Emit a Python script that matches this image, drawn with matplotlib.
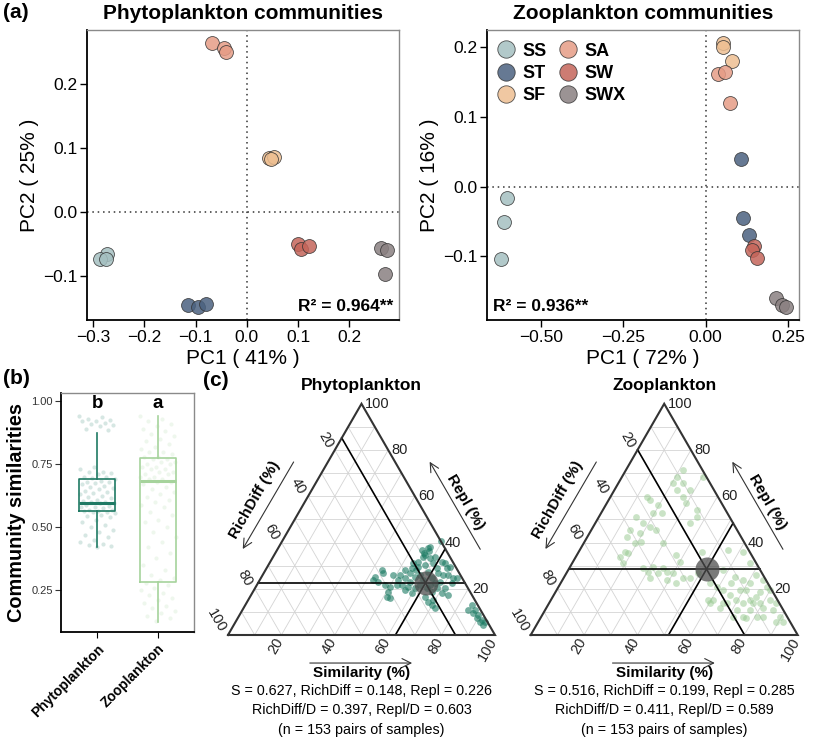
import numpy as np
import matplotlib.pyplot as plt
from matplotlib.lines import Line2D

plt.rcParams['font.family'] = ['Liberation Sans', 'DejaVu Sans']

# ---- panel (a): PCoA scores, 3 samples per site ----
sites = ['SS', 'ST', 'SF', 'SA', 'SW', 'SWX']
site_colors = ['#a5c0c1', '#4b6280', '#eebf92', '#e69c86', '#c5655a', '#8a8081']
sample_site = [s for s in sites for _ in range(3)]

phyto_pc1 = [-0.273, -0.287, -0.275, -0.114, -0.096, -0.080, 0.044, 0.053, 0.048,
             -0.068, -0.045, -0.040, 0.100, 0.106, 0.122, 0.262, 0.273, 0.270]
phyto_pc2 = [-0.066, -0.074, -0.074, -0.145, -0.148, -0.144, 0.084, 0.086, 0.082,
             0.264, 0.256, 0.250, -0.051, -0.058, -0.053, -0.057, -0.060, -0.097]
zoo_pc1 = [-0.603, -0.614, -0.622, 0.107, 0.115, 0.132, 0.054, 0.054, 0.079,
           0.038, 0.059, 0.074, 0.148, 0.142, 0.155, 0.214, 0.231, 0.244]
zoo_pc2 = [-0.016, -0.051, -0.104, 0.040, -0.045, -0.070, 0.206, 0.199, 0.179,
           0.161, 0.164, 0.120, -0.085, -0.091, -0.102, -0.159, -0.169, -0.172]

# ---- panel (b): pairwise similarities ----
phyto_sim = [0.94, 0.935, 0.93, 0.925, 0.92, 0.92, 0.915, 0.91, 0.905, 0.90, 0.89, 0.885,
             0.74, 0.73, 0.72, 0.72, 0.715, 0.71, 0.70, 0.70, 0.695, 0.69, 0.685, 0.68, 0.68,
             0.675, 0.67, 0.665, 0.66, 0.655, 0.65, 0.645, 0.64, 0.635, 0.63, 0.625, 0.62,
             0.615, 0.61, 0.605, 0.60, 0.60, 0.598, 0.595, 0.59, 0.585, 0.58, 0.58, 0.575,
             0.57, 0.57, 0.565, 0.565, 0.56, 0.56, 0.555, 0.55, 0.545, 0.54, 0.53, 0.52,
             0.51, 0.50, 0.49, 0.48, 0.47, 0.46, 0.45, 0.44, 0.435, 0.43, 0.425, 0.42]
zoo_sim = [0.94, 0.93, 0.92, 0.91, 0.90, 0.89, 0.88, 0.87, 0.86, 0.85, 0.84, 0.83, 0.82,
           0.81, 0.80, 0.80, 0.79, 0.78, 0.78, 0.77, 0.77, 0.76, 0.76, 0.75, 0.75, 0.74,
           0.74, 0.73, 0.73, 0.72, 0.72, 0.71, 0.71, 0.70, 0.70, 0.69, 0.69, 0.68, 0.68,
           0.67, 0.66, 0.65, 0.64, 0.63, 0.62, 0.61, 0.60, 0.59, 0.58, 0.56, 0.55, 0.53,
           0.52, 0.50, 0.48, 0.46, 0.44, 0.42, 0.40, 0.38, 0.35, 0.33, 0.31, 0.30, 0.29,
           0.28, 0.27, 0.26, 0.25, 0.24, 0.23, 0.22, 0.21, 0.20, 0.19, 0.18, 0.17, 0.16,
           0.15, 0.14, 0.13]
# box statistics: whislo, q1, med, q3, whishi
phyto_box = [0.42, 0.565, 0.597, 0.693, 0.875]
zoo_box = [0.125, 0.283, 0.685, 0.775, 0.94]

# ---- panel (c): ternary (Similarity %, Repl %), RichDiff = 100 - S - Repl ----
phyto_S = [59.4, 56.5, 54.1, 55.7, 57.1, 56.2, 59.1, 55.4, 58.6, 61.4, 54.4, 56.5, 54.8,
           58.9, 61.3, 63.7, 65.8, 67.5, 72.0, 67.7, 67.9, 71.2, 68.1, 71.0, 64.8, 61.1,
           59.9, 56.6, 54.0, 54.2, 51.9, 48.9, 43.5, 44.7, 42.5, 44.8, 50.2, 50.7, 51.1,
           52.8, 56.6, 59.8, 65.5, 69.8, 71.8, 67.8, 73.9, 72.6, 73.4, 64.2, 60.6, 84.6,
           87.2, 89.4, 89.5, 91.8, 93.5, 93.5, 84.8, 56.5, 56.3, 56.5, 57.4, 61.3, 64.0,
           66.4, 64.3, 66.9, 57.1, 52.4, 51.4, 48.0, 42.4, 69.5, 68.4, 65.4, 53.9, 52.2,
           69.3, 87.1, 91.6]
phyto_R = [40.7, 38.2, 36.8, 35.3, 36.3, 33.9, 33.2, 31.7, 30.3, 31.0, 28.8, 28.1, 26.7,
           25.9, 27.4, 28.8, 31.0, 28.8, 24.8, 25.9, 23.1, 20.2, 20.2, 18.0, 21.6, 21.6,
           20.2, 23.1, 24.5, 21.6, 23.8, 25.9, 28.1, 26.7, 23.8, 23.1, 20.9, 18.7, 16.6,
           15.9, 19.5, 18.0, 16.6, 13.0, 11.5, 14.4, 17.3, 22.3, 24.5, 31.7, 33.9, 10.8,
           9.4, 8.6, 7.2, 6.5, 5.5, 4.3, 13.0, 34.6, 37.5, 29.6, 25.2, 23.8, 24.5, 22.3,
           20.2, 18.7, 20.9, 21.6, 25.9, 21.6, 25.2, 25.9, 29.5, 26.7, 31.0, 28.1, 15.1,
           10.8, 5.5]
zoo_S = [21.4, 30.4, 20.4, 24.3, 20.6, 23.3, 28.3, 27.2, 29.9, 35.1, 36.5, 35.5, 13.5,
         15.4, 19.6, 22.7, 19.6, 14.0, 18.0, 21.2, 24.4, 18.9, 14.4, 14.7, 19.2, 21.3,
         17.3, 18.9, 19.1, 29.8, 16.5, 31.1, 35.2, 37.2, 40.1, 44.9, 34.4, 30.3, 27.7,
         47.4, 49.4, 37.3, 40.0, 46.0, 55.5, 61.6, 58.1, 63.8, 66.6, 55.9, 60.7, 65.3,
         64.0, 68.6, 67.7, 70.9, 71.6, 75.1, 77.9, 76.4, 74.5, 72.8, 71.7, 76.7, 79.0,
         81.9, 85.4, 89.4, 91.6, 89.1, 83.1, 80.7, 77.2, 66.5, 65.1, 60.3, 62.4, 66.0,
         79.8, 85.2, 69.5, 75.7, 76.5, 58.9, 59.2, 76.3, 71.1, 81.3, 71.9, 39.0, 43.4,
         32.4]
zoo_R = [71.3, 68.5, 68.5, 65.6, 65.6, 62.7, 62.7, 59.8, 56.9, 54.0, 51.2, 48.3, 59.8,
         58.4, 56.2, 52.6, 52.6, 51.2, 48.3, 46.8, 45.4, 43.9, 45.4, 42.5, 39.6, 40.3,
         36.0, 35.3, 31.0, 39.6, 33.8, 29.5, 28.8, 27.4, 26.6, 24.5, 26.6, 27.4, 28.8,
         24.5, 26.6, 34.6, 31.7, 36.0, 36.7, 36.0, 28.1, 25.2, 31.0, 22.3, 15.1, 13.7,
         22.3, 19.4, 23.8, 22.3, 25.9, 23.8, 20.9, 18.7, 15.1, 13.7, 10.8, 10.8, 13.7,
         15.1, 10.8, 7.9, 5.7, 5.7, 7.9, 7.9, 7.2, 13.7, 11.5, 13.7, 19.4, 17.3, 19.4,
         13.7, 15.1, 7.9, 13.7, 15.1, 20.9, 16.5, 19.4, 11.5, 7.9, 23.8, 22.3, 24.5]
phyto_mean = [0.627, 0.148, 0.226]  # S, RichDiff, Repl
zoo_mean = [0.516, 0.199, 0.285]
phyto_stats = ['S = 0.627, RichDiff = 0.148, Repl = 0.226',
               'RichDiff/D = 0.397, Repl/D = 0.603',
               '(n = 153 pairs of samples)']
zoo_stats = ['S = 0.516, RichDiff = 0.199, Repl = 0.285',
             'RichDiff/D = 0.411, Repl/D = 0.589',
             '(n = 153 pairs of samples)']

W, H = 815, 739
fig = plt.figure(figsize=(W / 100, H / 100), dpi=100)


def px_axes(x0, y0, x1, y1):
    return fig.add_axes([x0 / W, 1 - y1 / H, (x1 - x0) / W, (y1 - y0) / H])


def style_box(ax):
    for s in ['left', 'bottom']:
        ax.spines[s].set_color('black')
        ax.spines[s].set_linewidth(1.3)
    for s in ['top', 'right']:
        ax.spines[s].set_color('#8a8a8a')
        ax.spines[s].set_linewidth(1.0)


def pcoa(ax, pc1, pc2, title, xlab, ylab, r2, r2pos):
    ax.axhline(0, color='#333333', ls=(0, (1, 2.5)), lw=1.1, zorder=1)
    ax.axvline(0, color='#333333', ls=(0, (1, 2.5)), lw=1.1, zorder=1)
    for i in range(len(pc1)):
        c = site_colors[sites.index(sample_site[i])]
        ax.scatter(pc1[i], pc2[i], s=100, color=c, alpha=0.85,
                   edgecolor='#333333', linewidth=0.6, zorder=3)
    ax.set_title(title, fontsize=15, fontweight='bold', pad=8)
    ax.set_xlabel(xlab, fontsize=15, labelpad=3)
    ax.set_ylabel(ylab, fontsize=15, labelpad=3)
    ax.tick_params(labelsize=12.5, length=5, width=1, pad=2)
    ax.text(r2pos[0], r2pos[1], r2, transform=ax.transAxes, fontsize=12.5,
            fontweight='bold', ha=r2pos[2], va='bottom')
    style_box(ax)


ax1 = px_axes(87, 30, 399, 320)
pcoa(ax1, phyto_pc1, phyto_pc2, 'Phytoplankton communities',
     'PC1 ( 41% )', 'PC2 ( 25% )', 'R² = 0.964**', (0.98, 0.02, 'right'))
ax1.set_xlim(-0.312, 0.297)
ax1.set_ylim(-0.169, 0.284)
ax1.set_xticks([-0.3, -0.2, -0.1, 0.0, 0.1, 0.2])
ax1.set_yticks([-0.1, 0.0, 0.1, 0.2])

ax2 = px_axes(487, 30, 799, 320)
pcoa(ax2, zoo_pc1, zoo_pc2, 'Zooplankton communities',
     'PC1 ( 72% )', 'PC2 ( 16% )', 'R² = 0.936**', (0.02, 0.02, 'left'))
ax2.set_xlim(-0.665, 0.284)
ax2.set_ylim(-0.191, 0.224)
ax2.set_xticks([-0.5, -0.25, 0.0, 0.25])
ax2.set_xticklabels(['\u22120.50', '\u22120.25', '0.00', '0.25'])
ax2.set_yticks([-0.1, 0.0, 0.1, 0.2])
handles = [Line2D([], [], marker='o', ls='', markersize=12.5, color=c, alpha=0.85,
                  markeredgecolor='#333333', markeredgewidth=0.6) for c in site_colors]
ax2.legend(handles, sites, ncol=2, loc='upper left', bbox_to_anchor=(-0.015, 1.0),
           frameon=False, prop={'weight': 'bold', 'size': 13}, handletextpad=0.3,
           columnspacing=0.6, labelspacing=0.3, borderaxespad=0.3, handlelength=1.2)

# ---- panel (b) ----
ax3 = px_axes(61, 393, 194, 632)
box_cols = ['#1f7a64', '#a6d39c']
for k, (vals, st) in enumerate([(phyto_sim, phyto_box), (zoo_sim, zoo_box)]):
    pos = k + 1
    offs = [((i * 0.6180339) % 1 - 0.5) * 0.6 for i in range(len(vals))]
    ax3.scatter([pos + o for o in offs], vals, s=9, color=box_cols[k],
                alpha=0.18, linewidth=0, zorder=2)
    stats = [{'whislo': st[0], 'q1': st[1], 'med': st[2], 'q3': st[3],
              'whishi': st[4], 'fliers': []}]
    ax3.bxp(stats, positions=[pos], widths=0.6, showcaps=False,
            boxprops=dict(color=box_cols[k], lw=1.2),
            whiskerprops=dict(color=box_cols[k], lw=1.2),
            medianprops=dict(color=box_cols[k], lw=2.2), manage_ticks=False)
ax3.set_xlim(0.4, 2.6)
ax3.set_ylim(0.085, 1.032)
ax3.set_yticks([0.25, 0.5, 0.75, 1.0])
ax3.set_yticklabels(['0.25', '0.50', '0.75', '1.00'])
ax3.set_xticks([1, 2])
ax3.set_xticklabels(['Phytoplankton', 'Zooplankton'], rotation=45, ha='right',
                    rotation_mode='anchor', fontweight='bold', fontsize=10)
ax3.tick_params(axis='y', labelsize=8, length=4, colors='#333333', pad=2)
ax3.tick_params(axis='x', length=4, pad=3)
ax3.set_ylabel('Community similarities', fontsize=14.3, fontweight='bold', labelpad=4)
ax3.text(1, 0.99, 'b', ha='center', va='center', fontsize=13.5, fontweight='bold')
ax3.text(2, 0.99, 'a', ha='center', va='center', fontsize=13.5, fontweight='bold')
style_box(ax3)

# ---- panel (c) ----
R3 = np.sqrt(3) / 2


def txy(s, r):
    return s + r / 2, r * R3


def ternary(ax, title, S, R, mean, stats, col, alpha):
    ax.set_aspect('equal')
    ax.axis('off')
    for v in np.arange(0.1, 1.0, 0.1):
        for a, b in [((v, 0), (v, 1 - v)), ((0, v), (1 - v, v)), ((1 - v, 0), (0, 1 - v))]:
            p, q = txy(*a), txy(*b)
            ax.plot([p[0], q[0]], [p[1], q[1]], color='#d4d4d4', lw=0.6, zorder=1)
    ax.plot([0, 1, 0.5, 0], [0, 0, R3, 0], color='#333333', lw=1.5, zorder=4,
            solid_joinstyle='miter')
    x, y = txy(np.array(S) / 100, np.array(R) / 100)
    ax.scatter(x, y, s=24, color=col, alpha=alpha, linewidth=0, zorder=2)
    ms, md, mr = mean
    for a, b in [((ms, 0), (ms, 1 - ms)), ((0, mr), (1 - mr, mr)), ((1 - md, 0), (0, 1 - md))]:
        p, q = txy(*a), txy(*b)
        ax.plot([p[0], q[0]], [p[1], q[1]], color='black', lw=1.2, zorder=3)
    mx, my = txy(ms, mr)
    ax.scatter(mx, my, s=300, color='#4d4d4d', alpha=0.75, linewidth=0, zorder=5)
    for v in [20, 40, 60, 80, 100]:
        f = v / 100
        ax.text(f - 0.004, -0.014, str(v), rotation=60, ha='right', va='center',
                rotation_mode='anchor', fontsize=10.5, color='#222222')
        px, py = (1 - f) / 2, (1 - f) * R3
        ax.text(px - 0.02, py + 0.012, str(v), rotation=-60, ha='right', va='center',
                rotation_mode='anchor', fontsize=10.5, color='#222222')
        px, py = 1 - f / 2, f * R3
        ax.text(px + 0.013, py, str(v), ha='left', va='center', fontsize=10.5,
                color='#222222')
    arrow = dict(arrowstyle='->', lw=0.8, color='#333333', mutation_scale=16)
    ax.annotate('', xy=(0.70, -0.105), xytext=(0.296, -0.105), arrowprops=arrow)
    ax.text(0.5, -0.142, 'Similarity (%)', ha='center', va='center',
            fontsize=11, fontweight='bold')
    ax.annotate('', xy=(0.05, 0.313), xytext=(0.251, 0.657), arrowprops=arrow)
    ax.text(0.10, 0.506, 'RichDiff (%)', rotation=60, ha='center', va='center',
            fontsize=11, fontweight='bold')
    ax.annotate('', xy=(0.75, 0.658), xytext=(0.95, 0.312), arrowprops=arrow)
    ax.text(0.888, 0.499, 'Repl (%)', rotation=-60, ha='center', va='center',
            fontsize=11, fontweight='bold')
    ax.text(0.5, 0.936, title, ha='center', va='center', fontsize=12.5,
            fontweight='bold')
    for i, line in enumerate(stats):
        ax.text(0.5, -0.209 - 0.073 * i, line, ha='center', va='center', fontsize=10.3)


ax4 = px_axes(200, 380, 510, 739)
ax4.set_xlim(-28 / 267, 282 / 267)
ax4.set_ylim(-104 / 267, 255 / 267)
ternary(ax4, 'Phytoplankton', phyto_S, phyto_R, phyto_mean, phyto_stats, '#1b7a62', 0.6)

ax5 = px_axes(510, 380, 815, 739)
ax5.set_xlim(-20.7 / 267, 284.3 / 267)
ax5.set_ylim(-104 / 267, 255 / 267)
ternary(ax5, 'Zooplankton', zoo_S, zoo_R, zoo_mean, zoo_stats, '#96c98f', 0.5)

for lab, x, y in [('(a)', 3, 3), ('(b)', 3, 369), ('(c)', 203, 371)]:
    fig.text(x / W, 1 - y / H, lab, fontsize=15, fontweight='bold', ha='left', va='top')

fig.savefig('out.png', dpi=100)
